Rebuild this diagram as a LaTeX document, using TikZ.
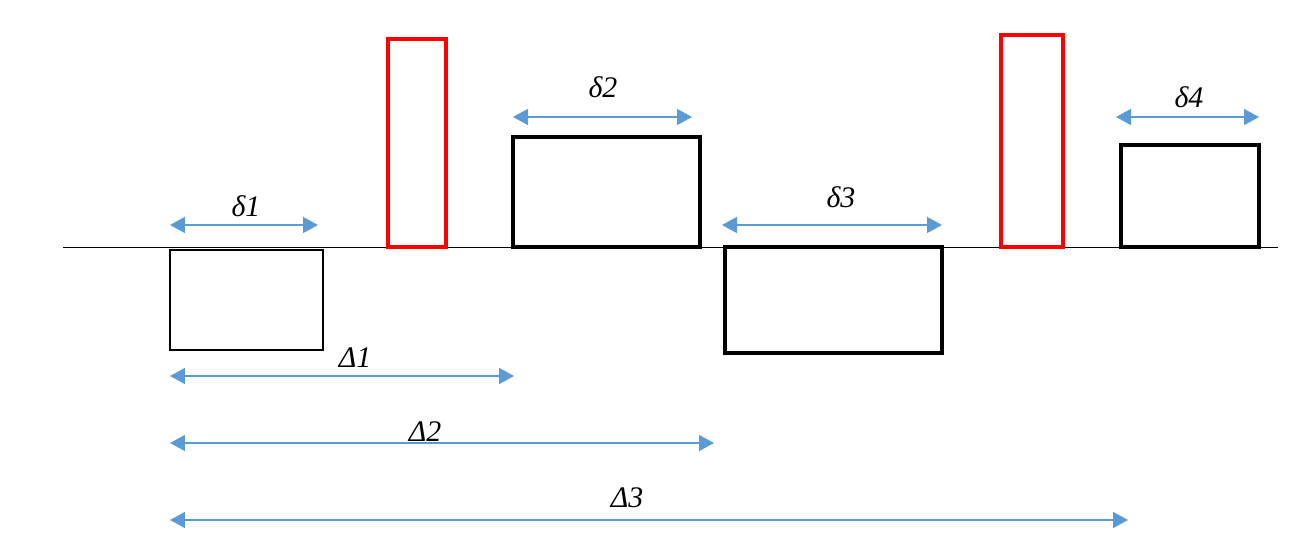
\documentclass[tikz,border=0pt]{standalone}
\usepackage{fontspec}
\setmainfont{Liberation Serif}
\usetikzlibrary{arrows.meta}
\definecolor{dimblue}{HTML}{5B9BD5}
\definecolor{pulsered}{HTML}{FF0000}
\begin{document}
\begin{tikzpicture}[x=0.02cm,y=-0.02cm,
  base/.style={line width=0.5pt},
  thinbox/.style={draw=black,line width=1.3pt},
  thickbox/.style={draw=black,line width=2.0pt},
  redbox/.style={draw=pulsered,line width=2.0pt},
  dimarrow/.style={draw=dimblue,line width=0.9pt,{Triangle[length=0.3cm,width=0.32cm]}-{Triangle[length=0.3cm,width=0.32cm]}},
  lbl/.style={font=\fontsize{17}{20}\selectfont\itshape,inner sep=0pt}]
\useasboundingbox (0,0) rectangle (1296,554);
% baseline
\coordinate (bl) at (63,247);
\coordinate (br) at (1278,247);
\draw[base] (bl) -- (br);
% boxes
\draw[thinbox] (170,250) rectangle (323,350);
\draw[redbox] (388,39) rectangle (446,247);
\draw[thickbox] (513,137) rectangle (700,247);
\draw[thickbox] (725,247) rectangle (942,353);
\draw[redbox] (1001,35) rectangle (1063,247);
\draw[thickbox] (1121,145) rectangle (1259,247);
% dimension arrows
\coordinate (d1a) at (170,225); \coordinate (d1b) at (318,225);
\coordinate (d2a) at (513,117); \coordinate (d2b) at (692,117);
\coordinate (d3a) at (722,225); \coordinate (d3b) at (942,225);
\coordinate (d4a) at (1116,117); \coordinate (d4b) at (1259,117);
\coordinate (D1a) at (170,376); \coordinate (D1b) at (514,376);
\coordinate (D2a) at (170,443); \coordinate (D2b) at (714,443);
\coordinate (D3a) at (170,520); \coordinate (D3b) at (1128,520);
\draw[dimarrow] (d1a) -- (d1b);
\draw[dimarrow] (d2a) -- (d2b);
\draw[dimarrow] (d3a) -- (d3b);
\draw[dimarrow] (d4a) -- (d4b);
\draw[dimarrow] (D1a) -- (D1b);
\draw[dimarrow] (D2a) -- (D2b);
\draw[dimarrow] (D3a) -- (D3b);
% labels
\node[lbl] (l1) at (246,206) {δ1};
\node[lbl] (l2) at (603,87) {δ2};
\node[lbl] (l3) at (841,197) {δ3};
\node[lbl] (l4) at (1189,97) {δ4};
\node[lbl] (L1) at (355,358) {Δ1};
\node[lbl] (L2) at (425,432) {Δ2};
\node[lbl] (L3) at (627,498) {Δ3};
\end{tikzpicture}
\end{document}
